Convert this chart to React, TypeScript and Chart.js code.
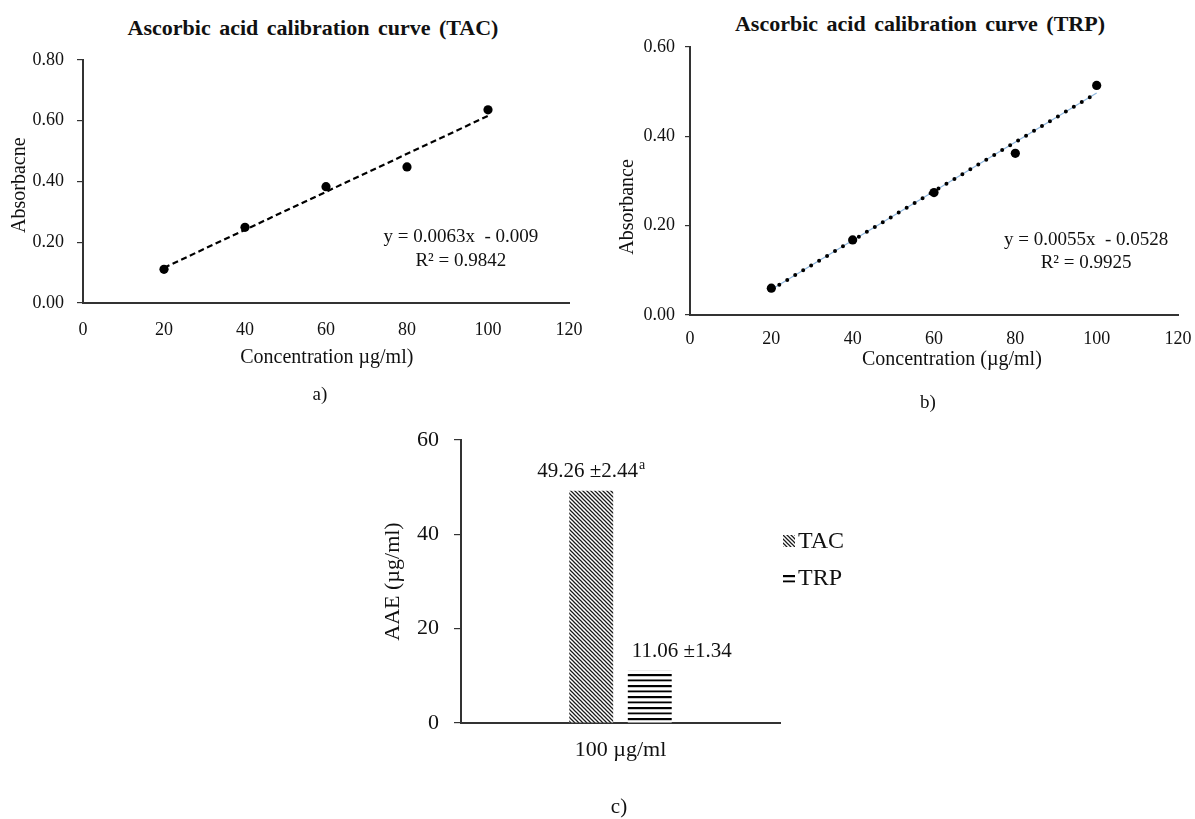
import React, { useEffect, useRef } from 'react';
import { Chart, registerables } from 'chart.js';

Chart.register(...registerables);

// ---------- data ----------
const concentrations = [20, 40, 60, 80, 100];
const tacAbsorbance = [0.111, 0.249, 0.383, 0.448, 0.636];
const trpAbsorbance = [0.06, 0.168, 0.274, 0.362, 0.514];
const trendX = [20, 100];
const tacTrendY = [0.116, 0.616];
const trpTrendY = [0.057, 0.497];
const xTicks = [0, 20, 40, 60, 80, 100, 120];
const tacYTicks = [0, 0.2, 0.4, 0.6, 0.8];
const trpYTicks = [0, 0.2, 0.4, 0.6];
const tacEquation = ['y = 0.0063x  - 0.009', 'R² = 0.9842'];
const trpEquation = ['y = 0.0055x  - 0.0528', 'R² = 0.9925'];

const aaeCategories = ['100 µg/ml'];
const aaeSeries = ['TAC', 'TRP'];
const aaeValues = [49.26, 11.06];
const aaeErrors = [2.44, 1.34];
const aaeLetters = ['a', ''];
const aaeTicks = [0, 20, 40, 60];

const SERIF = "'Liberation Serif', 'Times New Roman', Times, serif";
const INK = '#111';
const AXIS = '#333';

function makeAnnotationPlugin(o: {
  lines: string[]; eqX: number; eqY: number; eqSize: number; eqGap: number;
  xTitle: string; xTitleAt: number; xTitleDy: number;
  yTitle: string; yTitleAt: number; yTitleDx: number; titleSize: number;
}) {
  return {
    id: 'annotations',
    afterDraw(chart: any) {
      const { ctx, scales, chartArea } = chart;
      ctx.save();
      ctx.fillStyle = INK;
      ctx.textAlign = 'center';
      ctx.textBaseline = 'middle';
      // regression equation
      ctx.font = `${o.eqSize}px ${SERIF}`;
      const ex = scales.x.getPixelForValue(o.eqX);
      const ey = scales.y.getPixelForValue(o.eqY);
      o.lines.forEach((l, i) => ctx.fillText(l, ex, ey + i * o.eqGap));
      // axis titles
      ctx.font = `${o.titleSize}px ${SERIF}`;
      ctx.fillText(o.xTitle, scales.x.getPixelForValue(o.xTitleAt), chartArea.bottom + o.xTitleDy);
      ctx.translate(chartArea.left + o.yTitleDx, scales.y.getPixelForValue(o.yTitleAt));
      ctx.rotate(-Math.PI / 2);
      ctx.fillText(o.yTitle, 0, 0);
      ctx.restore();
    },
  };
}

type ScatterProps = {
  left: number; top: number; width: number; height: number;
  ys: number[]; trendY: number[]; yTicks: number[]; yMax: number;
  padding: any; yWidth: number; xHeight: number;
  xTickPad: number; yTickPad: number; yTickLen: number;
  dotted: boolean;
  annot: any;
};

function ScatterPanel(p: ScatterProps) {
  const ref = useRef<HTMLCanvasElement | null>(null);
  useEffect(() => {
    if (!ref.current) return;
    const pts = concentrations.map((x, i) => ({ x, y: p.ys[i] }));
    const trend = trendX.map((x, i) => ({ x, y: p.trendY[i] }));
    const datasets: any[] = [
      {
        label: 'data', data: pts, showLine: false, pointRadius: 4.6,
        pointBackgroundColor: '#000', pointBorderWidth: 0, order: 0,
      },
    ];
    if (p.dotted) {
      datasets.push({
        label: 'trend-dots', data: trend, showLine: true, pointRadius: 0,
        borderColor: '#000', borderWidth: 4, borderDash: [0, 9.3], borderCapStyle: 'round', order: 1,
      });
      datasets.push({
        label: 'trend-line', data: trend, showLine: true, pointRadius: 0,
        borderColor: '#8fb8e0', borderWidth: 1.2, order: 2,
      });
    } else {
      datasets.push({
        label: 'trend', data: trend, showLine: true, pointRadius: 0,
        borderColor: '#000', borderWidth: 2.2, borderDash: [6, 3.5], order: 1,
      });
    }
    const tickFont = { family: SERIF, size: 18 };
    const chart = new Chart(ref.current, {
      type: 'scatter',
      data: { datasets },
      options: {
        responsive: false,
        animation: false,
        layout: { padding: p.padding },
        plugins: { legend: { display: false }, tooltip: { enabled: false }, title: { display: false } },
        scales: {
          x: {
            type: 'linear', min: 0, max: 120,
            afterBuildTicks: (s: any) => { s.ticks = xTicks.map((v) => ({ value: v })); },
            afterFit: (s: any) => { s.height = p.xHeight; },
            grid: { display: false, drawTicks: false },
            border: { display: true, color: AXIS, width: 2 },
            ticks: { padding: p.xTickPad, font: tickFont, color: INK, autoSkip: false, maxRotation: 0, callback: (v: any) => String(v) },
          },
          y: {
            type: 'linear', min: 0, max: p.yMax,
            afterBuildTicks: (s: any) => { s.ticks = p.yTicks.map((v) => ({ value: v })); },
            afterFit: (s: any) => { s.width = p.yWidth; },
            grid: { display: true, drawOnChartArea: false, drawTicks: true, tickLength: p.yTickLen, color: AXIS, lineWidth: 1.2 },
            border: { display: true, color: AXIS, width: 2 },
            ticks: { padding: p.yTickPad, font: tickFont, color: INK, autoSkip: false, callback: (v: any) => Number(v).toFixed(2) },
          },
        },
      } as any,
      plugins: [makeAnnotationPlugin(p.annot)],
    });
    return () => chart.destroy();
  }, []);
  return (
    <canvas
      ref={ref}
      width={p.width}
      height={p.height}
      style={{ position: 'absolute', left: p.left, top: p.top, width: p.width, height: p.height, display: 'block' }}
    />
  );
}

function makeDiagonal(ctx: CanvasRenderingContext2D) {
  const n = 4;
  const c = document.createElement('canvas');
  c.width = n; c.height = n;
  const g = c.getContext('2d')!;
  g.fillStyle = '#fff';
  g.fillRect(0, 0, n, n);
  g.strokeStyle = '#1a1a1a';
  g.lineWidth = 1.25;
  g.beginPath();
  g.moveTo(-1, -1); g.lineTo(n + 1, n + 1);
  g.moveTo(n - 1, -1); g.lineTo(n + 1, 1);
  g.moveTo(-1, n - 1); g.lineTo(1, n + 1);
  g.stroke();
  return ctx.createPattern(c, 'repeat');
}

function makeHorizontal(ctx: CanvasRenderingContext2D) {
  const c = document.createElement('canvas');
  c.width = 2; c.height = 11;
  const g = c.getContext('2d')!;
  g.fillStyle = '#fff';
  g.fillRect(0, 0, 2, 11);
  g.fillStyle = '#000';
  g.fillRect(0, 0, 2, 2.2);
  g.fillRect(0, 5.5, 2, 1.8);
  return ctx.createPattern(c, 'repeat');
}

const barLabelPlugin = {
  id: 'barLabels',
  afterDatasetsDraw(chart: any) {
    const { ctx } = chart;
    ctx.save();
    chart.data.datasets.forEach((ds: any, i: number) => {
      const meta = chart.getDatasetMeta(i);
      meta.data.forEach((bar: any) => {
        const main = `${aaeValues[i].toFixed(2)} ±${aaeErrors[i].toFixed(2)}`;
        const sup = aaeLetters[i];
        ctx.font = `21px ${SERIF}`;
        const wMain = ctx.measureText(main).width;
        ctx.font = `14px ${SERIF}`;
        const wSup = sup ? ctx.measureText(sup).width + 1 : 0;
        const cx = bar.x + (i === 1 ? 32 : 0);
        const y = bar.y - 19;
        const x0 = cx - (wMain + wSup) / 2;
        ctx.fillStyle = INK;
        ctx.textAlign = 'left';
        ctx.textBaseline = 'middle';
        ctx.font = `21px ${SERIF}`;
        ctx.fillText(main, x0, y);
        if (sup) {
          ctx.font = `14px ${SERIF}`;
          ctx.fillText(sup, x0 + wMain + 1, y - 6);
        }
      });
    });
    ctx.restore();
  },
};

const legendPlugin = {
  id: 'sideLegend',
  afterDraw(chart: any) {
    const { ctx, chartArea } = chart;
    ctx.save();
    chart.data.datasets.forEach((ds: any, i: number) => {
      const cy = chartArea.top + 101 + i * 37;
      ctx.fillStyle = ds.backgroundColor;
      ctx.fillRect(chartArea.right + 3, cy - 6, 12, 12);
      ctx.fillStyle = INK;
      ctx.font = `24px ${SERIF}`;
      ctx.textAlign = 'left';
      ctx.textBaseline = 'middle';
      ctx.fillText(ds.label, chartArea.right + 18, cy + 1);
    });
    ctx.restore();
  },
};

function BarPanel() {
  const ref = useRef<HTMLCanvasElement | null>(null);
  useEffect(() => {
    if (!ref.current) return;
    const ctx = ref.current.getContext('2d')!;
    const fills = [makeDiagonal(ctx), makeHorizontal(ctx)];
    const font = { family: SERIF, size: 22 };
    const chart = new Chart(ref.current, {
      type: 'bar',
      data: {
        labels: aaeCategories,
        datasets: aaeSeries.map((name, i) => ({
          label: name,
          data: [aaeValues[i]],
          backgroundColor: fills[i],
          borderWidth: 0,
          categoryPercentage: 0.367,
          barPercentage: 0.75,
        })),
      },
      options: {
        responsive: false,
        animation: false,
        layout: { padding: { left: 0, right: 90, top: 30, bottom: 0 } },
        plugins: { legend: { display: false }, tooltip: { enabled: false } },
        scales: {
          x: {
            grid: { display: false, drawTicks: false },
            border: { display: true, color: AXIS, width: 2 },
            ticks: { padding: 14, font, color: INK },
            afterFit: (s: any) => { s.height = 96; },
          },
          y: {
            min: 0, max: 60,
            afterBuildTicks: (s: any) => { s.ticks = aaeTicks.map((v) => ({ value: v })); },
            afterFit: (s: any) => { s.width = 91; },
            grid: { display: true, drawOnChartArea: false, drawTicks: true, tickLength: 7, color: AXIS, lineWidth: 1.2 },
            border: { display: true, color: AXIS, width: 2 },
            ticks: { padding: 15, font, color: INK, callback: (v: any) => String(v) },
            title: { display: true, text: 'AAE (µg/ml)', font, color: INK, padding: { top: 10, bottom: 0 } },
          },
        },
      } as any,
      plugins: [barLabelPlugin, legendPlugin],
    });
    return () => chart.destroy();
  }, []);
  return (
    <canvas
      ref={ref}
      width={500}
      height={409}
      style={{ position: 'absolute', left: 370, top: 410, width: 500, height: 409, display: 'block' }}
    />
  );
}

function Label(props: { text: string; cx: number; cy: number; size: number; bold?: boolean }) {
  return (
    <div
      style={{
        position: 'absolute', left: props.cx - 300, width: 600, top: props.cy - 14, height: 28,
        lineHeight: '28px', textAlign: 'center', fontFamily: SERIF, fontSize: props.size,
        fontWeight: props.bold ? 'bold' : 'normal', color: INK, wordSpacing: props.bold ? '3px' : 'normal',
        whiteSpace: 'nowrap',
      }}
    >
      {props.text}
    </div>
  );
}

export default function App() {
  return (
    <div style={{ position: 'fixed', left: 0, top: 0, width: 1195, height: 819, background: '#fff', overflow: 'hidden' }}>
      <Label text="Ascorbic acid calibration curve (TAC)" cx={313} cy={28} size={22} bold />
      <Label text="Ascorbic acid calibration curve (TRP)" cx={920} cy={24} size={22} bold />
      <ScatterPanel
        left={0} top={0} width={626} height={390}
        ys={tacAbsorbance} trendY={tacTrendY} yTicks={tacYTicks} yMax={0.8}
        padding={{ left: 0, right: 57, top: 60, bottom: 0 }} yWidth={83} xHeight={87}
        xTickPad={16} yTickPad={13} yTickLen={6}
        dotted={false}
        annot={{
          lines: tacEquation, eqX: 93.3, eqY: 0.217, eqSize: 19, eqGap: 23.5,
          xTitle: 'Concentration µg/ml)', xTitleAt: 60.2, xTitleDy: 55,
          yTitle: 'Absorbacne', yTitleAt: 0.388, yTitleDx: -63, titleSize: 20,
        }}
      />
      <ScatterPanel
        left={590} top={0} width={628} height={390}
        ys={trpAbsorbance} trendY={trpTrendY} yTicks={trpYTicks} yMax={0.6}
        padding={{ left: 0, right: 40, top: 47, bottom: 0 }} yWidth={100} xHeight={75}
        xTickPad={13} yTickPad={10} yTickLen={5}
        dotted={true}
        annot={{
          lines: trpEquation, eqX: 97.4, eqY: 0.168, eqSize: 19, eqGap: 23.5,
          xTitle: 'Concentration (µg/ml)', xTitleAt: 64.4, xTitleDy: 45,
          yTitle: 'Absorbance', yTitleAt: 0.242, yTitleDx: -62, titleSize: 20,
        }}
      />
      <Label text="a)" cx={320} cy={394} size={19} />
      <Label text="b)" cx={928} cy={402} size={19} />
      <BarPanel />
      <Label text="c)" cx={619} cy={806} size={21} />
    </div>
  );
}
